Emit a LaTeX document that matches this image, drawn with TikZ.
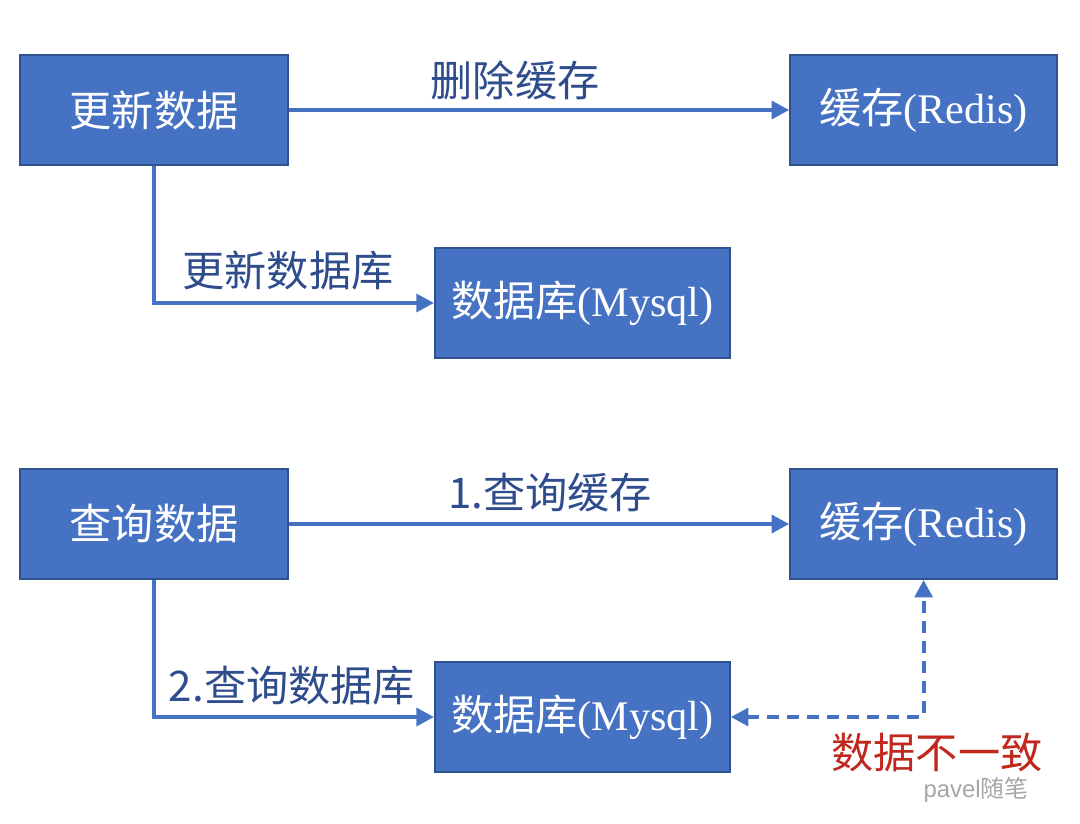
\documentclass[tikz,border=0pt]{standalone}
\usepackage{fontspec}
\setmainfont{Liberation Serif}
\newfontfamily\cjk{Noto Sans CJK SC}
\newfontfamily\wmfont{Liberation Sans}
\usetikzlibrary{arrows.meta}

\definecolor{boxblue}{RGB}{70,114,196}
\definecolor{boxedge}{RGB}{47,82,143}
\definecolor{lblblue}{RGB}{47,77,140}
\definecolor{warnred}{RGB}{192,40,30}

\tikzset{
  blk/.style={draw=boxedge, line width=1.2pt, fill=boxblue, text=white,
    minimum height=2.75cm, inner sep=0pt, font=\fontsize{30}{36}\selectfont},
  tip/.style={Triangle[length=4.4mm,width=4.4mm]},
  conn/.style={draw=boxblue, line width=3pt, -{Triangle[length=4.4mm,width=4.4mm]}},
  lbl/.style={text=lblblue, font=\cjk\fontsize{30}{36}\selectfont},
}

\begin{document}
\begin{tikzpicture}
 \useasboundingbox (0,0) rectangle (27,-20.575);

% Upper part: update data
 \node[blk, minimum width=6.7cm] (upd) at (3.85,-2.75) {\cjk 更新数据};
 \node[blk, minimum width=6.675cm] (redisA) at (23.09,-2.75) {{\cjk 缓存}(Redis)};
 \node[blk, minimum width=7.375cm] (dbA) at (14.56,-7.575) {{\cjk 数据库}(Mysql)};

 \draw[conn] (upd) -- (redisA); % delete cache
 \node[lbl] (delA) at (12.875,-2.0) {删除缓存};
 \draw[conn] (upd.south) |- (dbA.west); % update database
 \node[lbl] (updA) at (7.2,-6.75) {更新数据库};

% Lower part: query data
 \node[blk, minimum width=6.7cm] (qry) at (3.85,-13.1) {\cjk 查询数据};
 \node[blk, minimum width=6.675cm] (redisB) at (23.09,-13.1) {{\cjk 缓存}(Redis)};
 \node[blk, minimum width=7.375cm] (dbB) at (14.56,-17.925) {{\cjk 数据库}(Mysql)};

 \draw[conn] (qry) -- (redisB); % query cache first
 \node[lbl] (qA) at (13.75,-12.325) {1.查询缓存};
 \draw[conn] (qry.south) |- (dbB.west); % then database
 \node[lbl] (qB) at (7.3,-17.15) {2.查询数据库};

% Inconsistency between cache and database
 \draw[conn, {Triangle[length=4.4mm,width=4.4mm]}-{Triangle[length=4.4mm,width=4.4mm]},
   dash pattern=on 3mm off 2mm] (dbB.east) -| (redisB.south);
 \node[lbl, text=warnred] (warn) at (23.425,-18.8) {数据不一致};
 \node[text=black!35, font=\wmfont\fontsize{17}{20}\selectfont] (mark) at (24.4,-19.75) {pavel{\cjk 随笔}};

\end{tikzpicture}
\end{document}
